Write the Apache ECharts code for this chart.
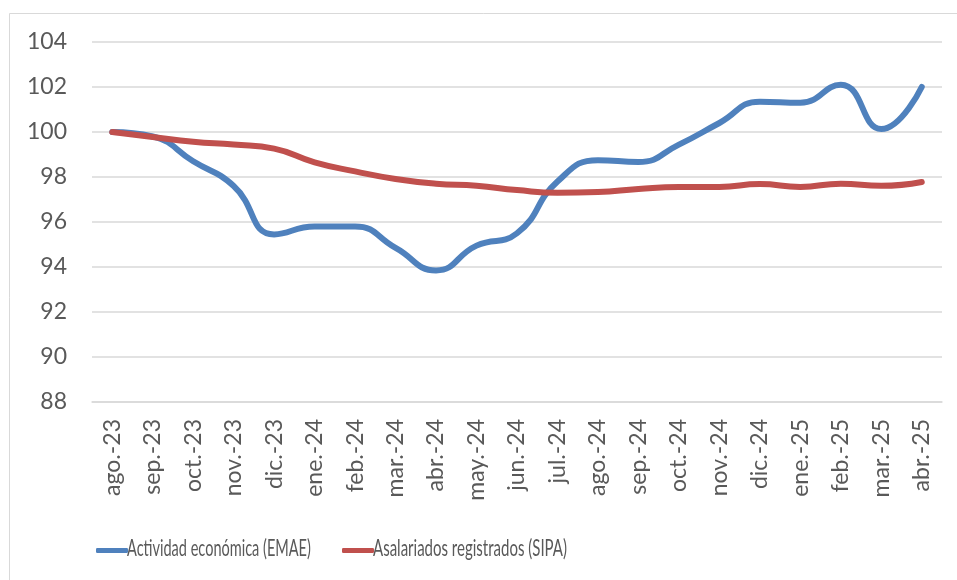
<!DOCTYPE html>
<html lang="es">
<head>
<meta charset="utf-8" />
<title>EMAE vs SIPA</title>
<script src="https://cdn.jsdelivr.net/npm/echarts@6/dist/echarts.min.js"></script>
<style>
  html, body { margin: 0; padding: 0; background: #fff; }
  #chart { width: 957px; height: 580px; }
</style>
</head>
<body>
<div id="chart"></div>
<script type="text/javascript">
// meses (eje x)
var months = ['ago.-23', 'sep.-23', 'oct.-23', 'nov.-23', 'dic.-23', 'ene.-24', 'feb.-24',
  'mar.-24', 'abr.-24', 'may.-24', 'jun.-24', 'jul.-24', 'ago.-24', 'sep.-24', 'oct.-24',
  'nov.-24', 'dic.-24', 'ene.-25', 'feb.-25', 'mar.-25', 'abr.-25'];

// Actividad económica (EMAE), base ago.-23 = 100
var emae = [100.0, 99.8, 98.7, 97.6, 95.45, 95.8, 95.8, 94.85, 93.85, 94.95, 95.5,
  97.8, 98.75, 98.67, 99.44, 100.4, 101.35, 101.3, 102.1, 100.13, 102.0];

// Asalariados registrados (SIPA), base ago.-23 = 100
var sipa = [100.0, 99.78, 99.57, 99.44, 99.26, 98.65, 98.25, 97.91, 97.7, 97.61, 97.42,
  97.3, 97.33, 97.47, 97.56, 97.56, 97.69, 97.56, 97.7, 97.61, 97.78];

var seriesNames = ['Actividad económica (EMAE)', 'Asalariados registrados (SIPA)'];

var chart = echarts.init(document.getElementById('chart'));

// la leyenda original usa una letra angosta: el icono va con legend y el texto
// se dibuja aparte, comprimido en horizontal
var legendTextStyle = { fontFamily: 'Lato, sans-serif', fontSize: 24, fill: '#595959' };

var option = {
  backgroundColor: '#fff',
  animation: false,
  color: ['#4F81BD', '#C0504D'],
  graphic: [
    {
      // marco del gráfico (solo se ve arriba y a la izquierda)
      type: 'rect',
      shape: { x: 9.5, y: 13.5, width: 1000, height: 1000 },
      style: { fill: 'none', stroke: '#D9D9D9', lineWidth: 1 },
      silent: true
    },
    {
      type: 'text', x: 127, y: 548, scaleX: 0.605,
      style: Object.assign({ text: seriesNames[0], verticalAlign: 'middle' }, legendTextStyle)
    },
    {
      type: 'text', x: 373, y: 548, scaleX: 0.625,
      style: Object.assign({ text: seriesNames[1], verticalAlign: 'middle' }, legendTextStyle)
    }
  ],
  grid: { left: 92, right: 15, top: 42, bottom: 178 },
  legend: [
    {
      left: 91, top: 543, icon: 'roundRect', itemWidth: 32, itemHeight: 5,
      formatter: function () { return ''; },
      data: [seriesNames[0]]
    },
    {
      left: 337, top: 543, icon: 'roundRect', itemWidth: 32, itemHeight: 5,
      formatter: function () { return ''; },
      data: [seriesNames[1]]
    }
  ],
  xAxis: {
    type: 'category',
    data: months,
    boundaryGap: true,
    axisLine: { lineStyle: { color: '#D9D9D9', width: 1.5 } },
    axisTick: { show: false },
    axisLabel: {
      rotate: 90,
      margin: 17,
      interval: 0,
      fontFamily: 'Lato, sans-serif',
      fontSize: 23,
      color: '#595959'
    }
  },
  yAxis: {
    type: 'value',
    min: 88,
    max: 104,
    interval: 2,
    axisLine: { show: false },
    axisTick: { show: false },
    splitLine: { lineStyle: { color: '#D9D9D9', width: 1.5 } },
    axisLabel: {
      margin: 25,
      fontFamily: 'Lato, sans-serif',
      fontSize: 23,
      color: '#595959'
    }
  },
  series: [
    {
      name: seriesNames[0],
      type: 'line',
      data: emae,
      smooth: true,
      symbol: 'none',
      lineStyle: { width: 6, cap: 'round', join: 'round' }
    },
    {
      name: seriesNames[1],
      type: 'line',
      data: sipa,
      smooth: true,
      symbol: 'none',
      lineStyle: { width: 6, cap: 'round', join: 'round' }
    }
  ]
};

chart.setOption(option);
</script>
</body>
</html>
